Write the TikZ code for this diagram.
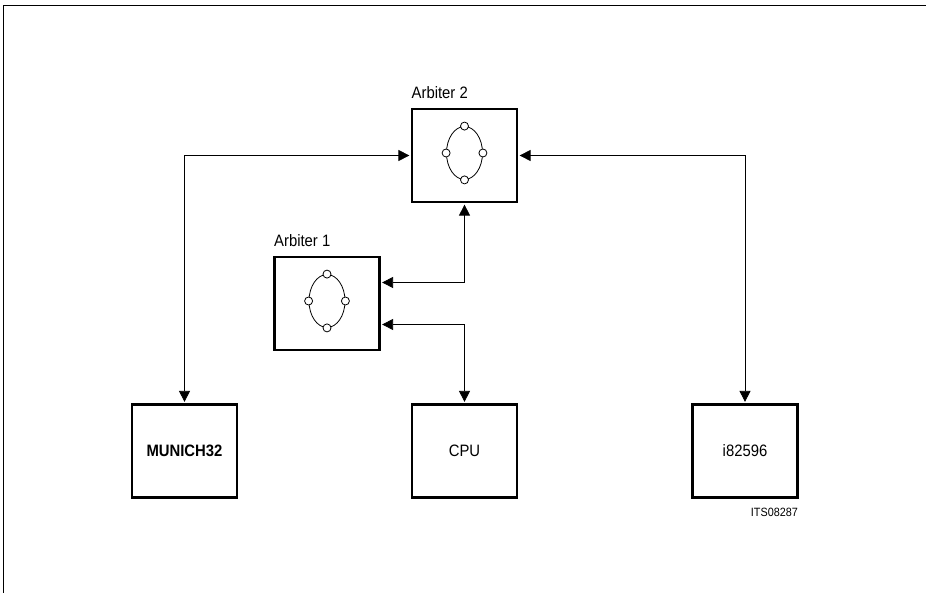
\documentclass[tikz,border=0pt]{standalone}
\usepackage{fontspec}
\setmainfont[FakeStretch=0.9]{Liberation Sans}
\usetikzlibrary{arrows.meta,positioning,shapes.geometric}
\begin{document}
\begin{tikzpicture}[
	x=1pt, y=-1pt,
	b/.style = {rectangle, draw=black, line width=2.2pt, minimum width=105pt, minimum height=93pt, inner sep=0pt, font=\fontsize{16.5}{19}\selectfont},
	l/.style = {inner sep=0pt, anchor=south west, font=\fontsize{16.5}{19}\selectfont},
	o/.style = {ellipse, draw=black, line width=0.8pt, minimum width=36pt, minimum height=53pt, inner sep=0pt},
	c/.style = {circle, draw=black, fill=white, line width=0.8pt, minimum size=8pt, inner sep=0pt},
	r/.style = {{Triangle[length=11pt,width=11pt]}-{Triangle[length=11pt,width=11pt]}, line width=0.75pt, shorten <=1.5pt, shorten >=1.5pt}
	]
	\useasboundingbox (0,0) rectangle (926,593);
	
	%Frame
	\coordinate (f-b) at (3.5,593);
	\coordinate (f-t) at (3.5,5);
	\coordinate (f-r) at (926,5);
	\draw[line width=0.9pt] (f-b) -- (f-t) -- (f-r);
	
	%Nodes
	\node[b]	(arb2)		at	(464.5, 155.5)	{};
	\node[b]	(arb1)		at	(327, 303.5)	{};
	\node[b]	(munich)	at	(184.5, 451)	{\textbf{MUNICH32}};
	\node[b]	(cpu)		at	(464.5, 451)	{CPU};
	\node[b]	(i82596)	at	(745, 451)		{i82596};
	
	%Labels
	\node[l]	(arb2-l)	at	(411.5, 99)	{Arbiter 2};
	\node[l]	(arb1-l)	at	(274, 247)		{Arbiter 1};
	\node[inner sep=0pt, anchor=north east, font=\fontsize{12}{14}\selectfont]	(its)	at	(798, 508)	{ITS08287};
	
	%Rings
	\foreach \a/\y in {arb1/-2.5, arb2/-2.5} {
		\node[o]	(\a-o)	at	([yshift=-\y pt]\a.center)	{};
		\foreach \s in {north, south, east, west}
			\node[c]	(\a-\s)	at	(\a-o.\s)	{};
	}
	
	%Lines
	\draw[r]	(arb2.west)		-|	(munich.north);
	\draw[r]	(arb2.east)		-|	(i82596.north);
	\draw[r]	(arb2.south)	|-	([yshift=21pt]arb1.east);
	\draw[r]	(cpu.north)		|-	([yshift=-21pt]arb1.east);
	
\end{tikzpicture}
\end{document}
